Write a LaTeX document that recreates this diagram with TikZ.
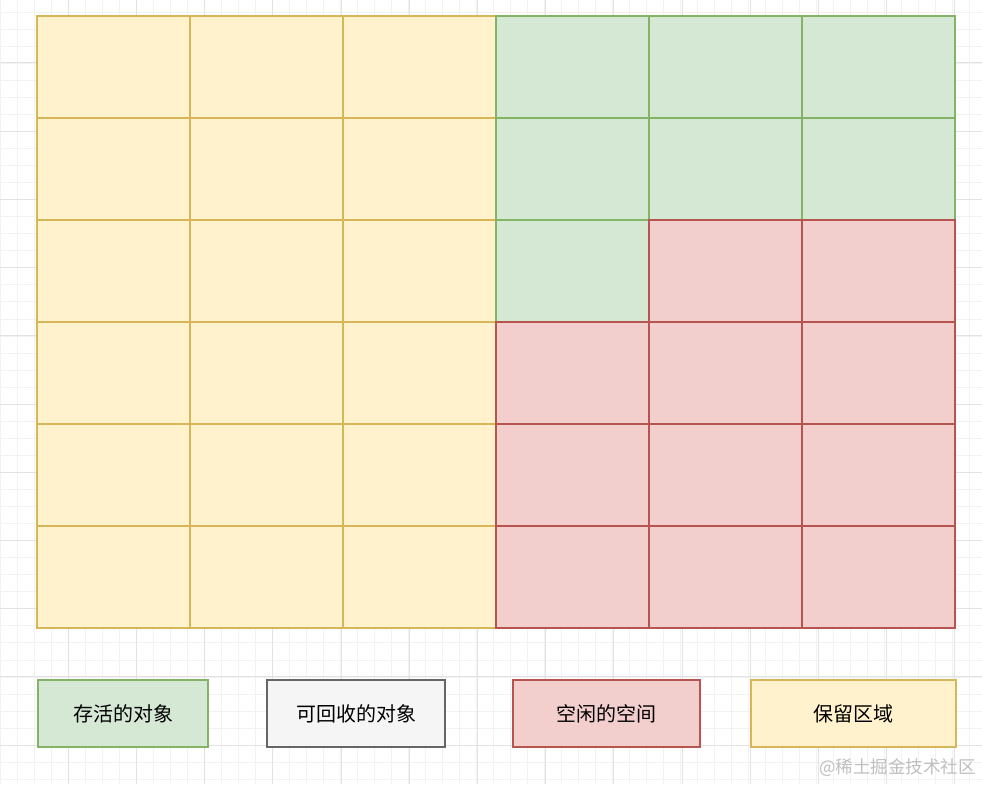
\documentclass[tikz,border=0pt]{standalone}
\usepackage{fontspec}
\newfontfamily\cjk{Noto Sans CJK SC}
\definecolor{yfill}{HTML}{FFF2CC}\definecolor{ystroke}{HTML}{D6B656}
\definecolor{gfill}{HTML}{D5E8D4}\definecolor{gstroke}{HTML}{82B366}
\definecolor{rfill}{HTML}{F2CECC}\definecolor{rstroke}{HTML}{B85450}
\definecolor{kfill}{HTML}{F5F5F5}\definecolor{kstroke}{HTML}{666666}
\definecolor{minorgrid}{HTML}{F2F2F2}\definecolor{majorgrid}{HTML}{E2E2E2}
\begin{document}
\begin{tikzpicture}[x=1pt,y=-1pt,
  cell/.style={draw, line width=2pt, minimum width=153pt, minimum height=102pt, inner sep=0pt, anchor=north west},
  ycell/.style={cell, fill=yfill, draw=ystroke},
  gcell/.style={cell, fill=gfill, draw=gstroke},
  rcell/.style={cell, fill=rfill, draw=rstroke},
  legend/.style={draw, line width=2pt, minimum height=67pt, inner sep=0pt, anchor=north west, font=\cjk\fontsize{20}{22}\selectfont, text=black}]
\useasboundingbox (0,0) rectangle (982,784);
\fill[white] (0,0) rectangle (982,784);
% background grid
\foreach \i in {0,...,58} {\draw[minorgrid, line width=0.8pt] (\i*17,0) -- (\i*17,784);}
\foreach \j in {0,...,46} {\draw[minorgrid, line width=0.8pt] (0,12+\j*17.05) -- (982,12+\j*17.05);}
\foreach \i in {1,...,14} {\draw[majorgrid, line width=1pt] (\i*68.2,0) -- (\i*68.2,784);}
\foreach \j in {0,...,10} {\draw[majorgrid, line width=1pt] (0,63+\j*68.2) -- (982,63+\j*68.2);}
% yellow cells
\foreach \r in {0,...,5} {\foreach \c in {0,1,2} {\node[ycell] (y\r\c) at (36+\c*153,15+\r*102) {};}}
% green cells
\foreach \r/\c in {0/3,0/4,0/5,1/3,1/4,1/5,2/3} {\node[gcell] (g\r\c) at (36+\c*153,15+\r*102) {};}
% red cells
\foreach \r/\c in {2/4,2/5,3/3,3/4,3/5,4/3,4/4,4/5,5/3,5/4,5/5} {\node[rcell] (r\r\c) at (36+\c*153,15+\r*102) {};}
% legend
\node[legend, fill=gfill, draw=gstroke, minimum width=170pt] (lg) at (37,679) {存活的对象};
\node[legend, fill=kfill, draw=kstroke, minimum width=178pt] (lk) at (266,679) {可回收的对象};
\node[legend, fill=rfill, draw=rstroke, minimum width=187pt] (lr) at (512,679) {空闲的空间};
\node[legend, fill=yfill, draw=ystroke, minimum width=205pt] (ly) at (750,679) {保留区域};
\node[anchor=east, inner sep=0pt, text=black!25, font=\cjk\fontsize{17.5}{19}\selectfont] (wm) at (976,768) {@稀土掘金技术社区};
\end{tikzpicture}
\end{document}
